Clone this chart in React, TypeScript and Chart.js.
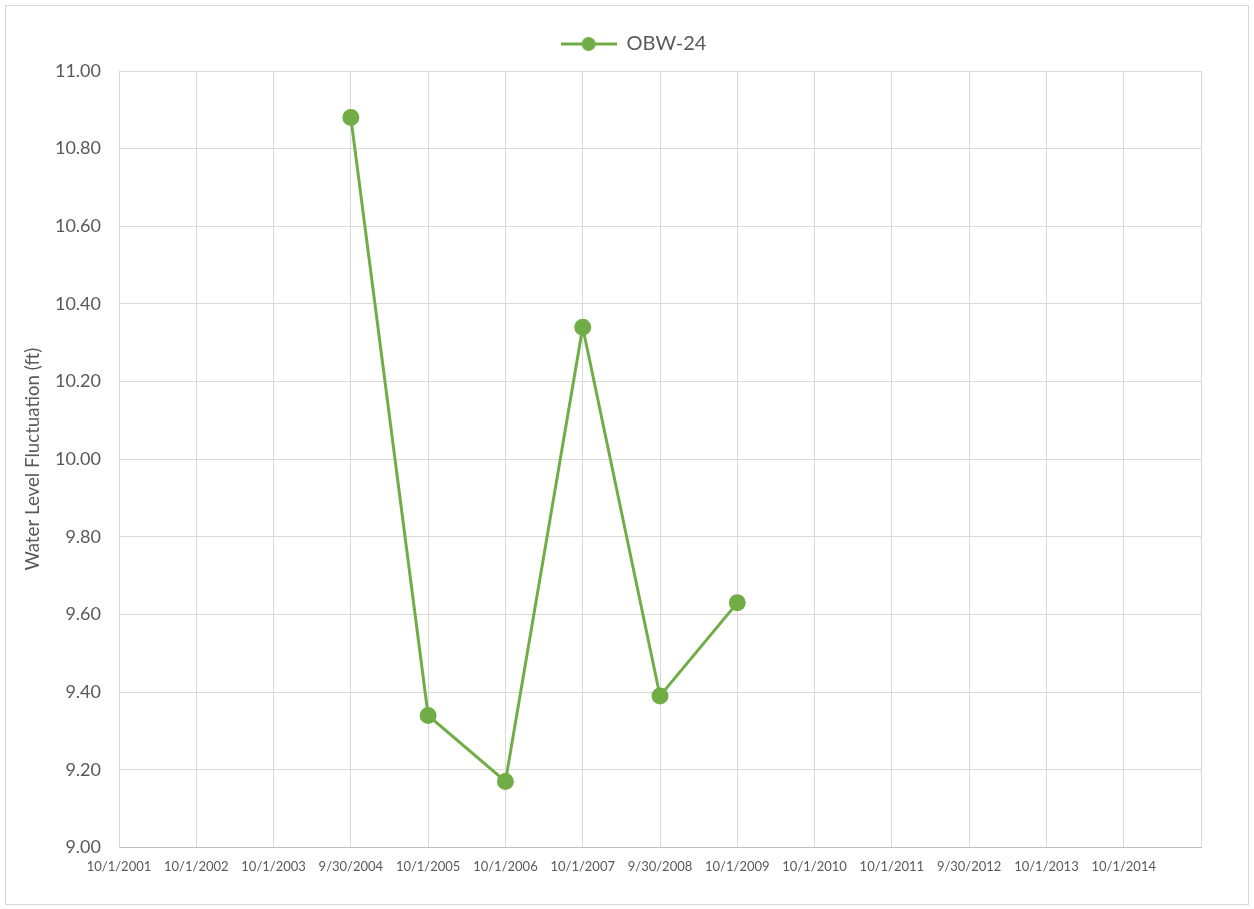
import React, { useEffect, useRef } from "react";
import { Chart, registerables } from "chart.js";

Chart.register(...registerables);

const categories = [
  "10/1/2001", "10/1/2002", "10/1/2003", "9/30/2004", "10/1/2005", "10/1/2006", "10/1/2007",
  "9/30/2008", "10/1/2009", "10/1/2010", "10/1/2011", "9/30/2012", "10/1/2013", "10/1/2014", "",
];
const seriesName = "OBW-24";
const seriesValues: (number | null)[] = [
  null, null, null, 10.88, 9.34, 9.17, 10.34, 9.39, 9.63, null, null, null, null, null, null,
];
const yMin = 9;
const yMax = 11;
const yStep = 0.2;
const yTitle = "Water Level Fluctuation (ft)";

const GREEN = "#70AD47";
const TEXT = "#595959";
const GRID = "#D9D9D9";
const FONT = "Lato, 'Open Sans', sans-serif";

function legendIcon(): HTMLCanvasElement {
  const c = document.createElement("canvas");
  c.width = 56;
  c.height = 16;
  const ctx = c.getContext("2d")!;
  ctx.strokeStyle = GREEN;
  ctx.lineWidth = 3;
  ctx.beginPath();
  ctx.moveTo(0, 8);
  ctx.lineTo(56, 8);
  ctx.stroke();
  ctx.fillStyle = GREEN;
  ctx.beginPath();
  ctx.arc(28, 8, 7, 0, Math.PI * 2);
  ctx.fill();
  return c;
}

const legendShift = {
  id: "legendShift",
  afterLayout(chart: any) {
    const lg = chart.legend;
    if (lg) {
      lg.left += 22;
      lg.right += 22;
      lg.top -= 7;
      lg.bottom -= 7;
    }
  },
};

export default function App() {
  const ref = useRef<HTMLCanvasElement | null>(null);
  useEffect(() => {
    if (!ref.current) return;
    const icon = legendIcon();
    const chart = new Chart(ref.current, {
      type: "line",
      data: {
        labels: categories,
        datasets: [
          {
            label: seriesName,
            data: seriesValues,
            borderColor: GREEN,
            backgroundColor: GREEN,
            borderWidth: 3,
            pointRadius: 7,
            pointHoverRadius: 7,
            pointBackgroundColor: GREEN,
            pointBorderColor: GREEN,
            spanGaps: false,
            tension: 0,
          },
        ],
      },
      plugins: [legendShift],
      options: {
        responsive: true,
        maintainAspectRatio: false,
        animation: false,
        layout: { padding: { top: 17, right: 53, bottom: 22, left: 22 } },
        plugins: {
          tooltip: { enabled: false },
          legend: {
            position: "top",
            labels: {
              usePointStyle: true,
              pointStyle: icon as any,
              pointStyleWidth: 56,
              boxHeight: 16,
              color: TEXT,
              font: { family: FONT, size: 20 },
              padding: 24,
            },
          },
        },
        scales: {
          x: {
            type: "category",
            offset: false,
            grid: { color: GRID, drawTicks: false, lineWidth: 1 },
            border: { color: "#BFBFBF", width: 1 },
            ticks: {
              color: TEXT,
              font: { family: FONT, size: 13 },
              maxRotation: 0,
              minRotation: 0,
              autoSkip: false,
              padding: 12,
            },
          },
          y: {
            min: yMin,
            max: yMax,
            afterFit: (scale: any) => {
              scale.width = 97;
            },
            grid: { color: GRID, drawTicks: false, lineWidth: 1 },
            border: { color: GRID, width: 1 },
            ticks: {
              stepSize: yStep,
              color: TEXT,
              font: { family: FONT, size: 18 },
              padding: 18,
              callback: (v: any) => Number(v).toFixed(2),
            },
            title: {
              display: true,
              text: yTitle,
              color: TEXT,
              font: { family: FONT, size: 18.7 },
              padding: { top: 0, bottom: 0 },
            },
          },
        },
      },
    });
    return () => chart.destroy();
  }, []);

  return (
    <div style={{ position: "absolute", left: 0, top: 0, width: 1254, height: 909, background: "#fff" }}>
      <div
        style={{
          position: "absolute",
          left: 5,
          top: 5,
          width: 1244,
          height: 900,
          border: `1px solid ${GRID}`,
          boxSizing: "border-box",
        }}
      />
      <div style={{ position: "absolute", left: 0, top: 0, width: 1254, height: 909 }}>
        <canvas ref={ref} />
      </div>
    </div>
  );
}
